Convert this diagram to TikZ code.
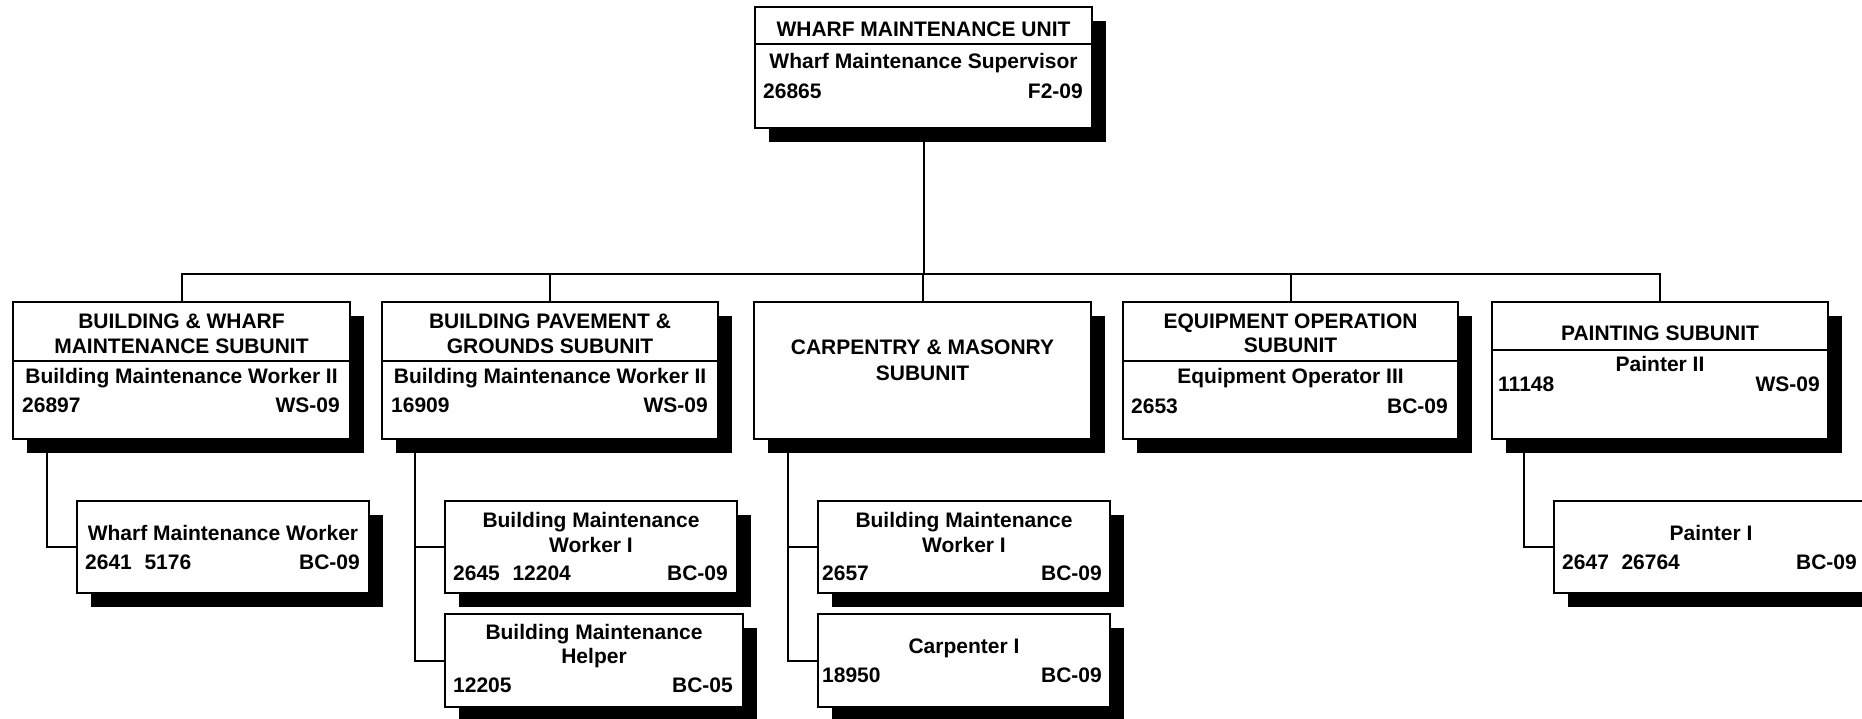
\documentclass[tikz,border=0pt]{standalone}
\usepackage{fontspec}
\setmainfont{Liberation Sans}
\usetikzlibrary{backgrounds}
\tikzset{
  obox/.style={draw, line width=2pt, fill=white, inner sep=0pt, outer sep=0pt, anchor=north west},
  txt/.style={font=\bfseries\fontsize{21}{25}\selectfont, inner sep=0pt},
  tc/.style={txt, anchor=base},
  tl/.style={txt, anchor=base west},
  tr/.style={txt, anchor=base east},
  conn/.style={line width=2pt},
  divider/.style={line width=2pt},
}
\newcommand\dropshadow[1]{%
  \begin{scope}[on background layer]
    \fill ([shift={(14,14)}]#1.north west) rectangle ([shift={(14,14)}]#1.south east);
  \end{scope}}
\begin{document}
\begin{tikzpicture}[x=1pt,y=-1pt]
\useasboundingbox (0,0) rectangle (1862,719);
\clip (0,0) rectangle (1862,719);

% boxes
\node[obox, minimum width=337pt, minimum height=121pt] (T) at (755,7) {};
\node[obox, minimum width=337pt, minimum height=137pt] (A) at (13,302) {};
\node[obox, minimum width=336pt, minimum height=137pt] (B) at (382,302) {};
\node[obox, minimum width=337pt, minimum height=137pt] (C) at (754,302) {};
\node[obox, minimum width=335pt, minimum height=137pt] (D) at (1123,302) {};
\node[obox, minimum width=336pt, minimum height=137pt] (E) at (1492,302) {};
\node[obox, minimum width=292pt, minimum height=92pt] (A1) at (77,501) {};
\node[obox, minimum width=292pt, minimum height=92pt] (B1) at (445,501) {};
\node[obox, minimum width=298pt, minimum height=93pt] (B2) at (445,614) {};
\node[obox, minimum width=292pt, minimum height=92pt] (C1) at (818,501) {};
\node[obox, minimum width=292pt, minimum height=93pt] (C2) at (818,614) {};
\node[obox, minimum width=314pt, minimum height=92pt] (E1) at (1554,501) {};

\foreach \b in {T,A,B,C,D,E,A1,B1,B2,C1,C2,E1} {\dropshadow{\b}}

% dividers
\draw[divider] (T.west |- 0,44) -- (T.east |- 0,44);
\draw[divider] (A.west |- 0,361) -- (A.east |- 0,361);
\draw[divider] (B.west |- 0,361) -- (B.east |- 0,361);
\draw[divider] (D.west |- 0,361) -- (D.east |- 0,361);
\draw[divider] (E.west |- 0,350) -- (E.east |- 0,350);

% connectors
\coordinate (bus) at (0,274);
\draw[conn] (T.south) -- (T.south |- bus);
\draw[conn] (A.north) |- (E.north |- bus) -- (E.north);
\draw[conn] (B.north) -- (B.north |- bus);
\draw[conn] (C.north) -- (C.north |- bus);
\draw[conn] (D.north) -- (D.north |- bus);
\draw[conn] ([xshift=34]A.south west) |- (A1.west);
\draw[conn] ([xshift=33]B.south west) |- (B1.west);
\draw[conn] ([xshift=33]B.south west) |- (B2.west);
\draw[conn] ([xshift=34]C.south west) |- (C1.west);
\draw[conn] ([xshift=34]C.south west) |- (C2.west);
\draw[conn] ([xshift=32]E.south west) |- (E1.west);

% texts: top
\node[tc] (t1) at (923.5,37) {WHARF MAINTENANCE UNIT};
\node[tc] (t2) at (923.5,69) {Wharf Maintenance Supervisor};
\node[tl] (t3) at (763,99) {26865};
\node[tr] (t4) at (1083,99) {F2-09};

% A
\node[tc] (a1) at (181.5,328) {BUILDING \& WHARF};
\node[tc] (a2) at (181.5,353) {MAINTENANCE SUBUNIT};
\node[tc] (a3) at (181.5,383) {Building Maintenance Worker II};
\node[tl] (a4) at (22,412) {26897};
\node[tr] (a5) at (340,412) {WS-09};

% B
\node[tc] (b1) at (550,328) {BUILDING PAVEMENT \&};
\node[tc] (b2) at (550,353) {GROUNDS SUBUNIT};
\node[tc] (b3) at (550,383) {Building Maintenance Worker II};
\node[tl] (b4) at (391,412) {16909};
\node[tr] (b5) at (708,412) {WS-09};

% C
\node[tc] (c1) at (922.5,354) {CARPENTRY \& MASONRY};
\node[tc] (c2) at (922.5,380) {SUBUNIT};

% D
\node[tc] (d1) at (1290.5,328) {EQUIPMENT OPERATION};
\node[tc] (d2) at (1290.5,352) {SUBUNIT};
\node[tc] (d3) at (1290.5,383) {Equipment Operator III};
\node[tl] (d4) at (1131,413) {2653};
\node[tr] (d5) at (1448,413) {BC-09};

% E
\node[tc] (e1) at (1660,340) {PAINTING SUBUNIT};
\node[tc] (e2) at (1660,371) {Painter II};
\node[tl] (e3) at (1498,391) {11148};
\node[tr] (e4) at (1820,391) {WS-09};

% A1
\node[tc] (f1) at (223,540) {Wharf Maintenance Worker};
\node[tl] (f2) at (85,569) {2641\hspace{0.6em}5176};
\node[tr] (f3) at (360,569) {BC-09};

% B1
\node[tc] (g1) at (591,527) {Building Maintenance};
\node[tc] (g2) at (591,552) {Worker I};
\node[tl] (g3) at (453,580) {2645\hspace{0.6em}12204};
\node[tr] (g4) at (728,580) {BC-09};

% B2
\node[tc] (h1) at (594,639) {Building Maintenance};
\node[tc] (h2) at (594,663) {Helper};
\node[tl] (h3) at (453,692) {12205};
\node[tr] (h4) at (733,692) {BC-05};

% C1
\node[tc] (i1) at (964,527) {Building Maintenance};
\node[tc] (i2) at (964,552) {Worker I};
\node[tl] (i3) at (822,580) {2657};
\node[tr] (i4) at (1102,580) {BC-09};

% C2
\node[tc] (j1) at (964,653) {Carpenter I};
\node[tl] (j2) at (822,682) {18950};
\node[tr] (j3) at (1102,682) {BC-09};

% E1
\node[tc] (k1) at (1711,540) {Painter I};
\node[tl] (k2) at (1562,569) {2647\hspace{0.6em}26764};
\node[tr] (k3) at (1857,569) {BC-09};
\end{tikzpicture}
\end{document}
